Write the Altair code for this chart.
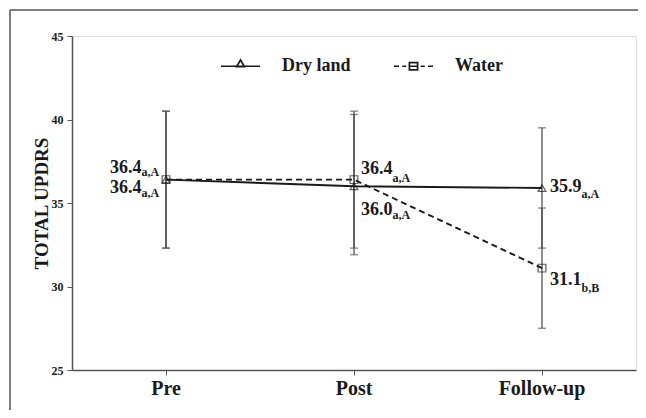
import altair as alt
import pandas as pd

# ---- data ----
times = ["Pre", "Post", "Follow-up"]
groups = ["Dry land", "Water"]

dry_mean = [36.4, 36.0, 35.9]
dry_lo = [32.3, 31.9, 32.3]
dry_hi = [40.5, 40.3, 39.5]
dry_sub = ["a,A", "a,A", "a,A"]

water_mean = [36.4, 36.4, 31.1]
water_lo = [32.3, 32.3, 27.5]
water_hi = [40.5, 40.5, 34.7]
water_sub = ["a,A", "a,A", "b,B"]

y_ticks = [25, 30, 35, 40, 45]

rows = []
for g, m, lo, hi, sb in [("Dry land", dry_mean, dry_lo, dry_hi, dry_sub),
                         ("Water", water_mean, water_lo, water_hi, water_sub)]:
    for t, mv, l, h, s in zip(times, m, lo, hi, sb):
        rows.append({"group": g, "time": t, "mean": mv, "lo": l, "hi": h, "sub": s})
df = pd.DataFrame(rows)

FONT = "Liberation Serif"
INK = "#1a1a1a"

x_enc = alt.X("time:N", sort=times,
              axis=alt.Axis(title=None, labelAngle=0, labelFontSize=20, labelFontWeight="bold",
                            labelColor=INK, tickSize=5, labelPadding=3, tickColor="#555",
                            domainColor="#555", domainWidth=1.5))
y_enc = alt.Y("mean:Q",
              scale=alt.Scale(domain=[25, 45], nice=False, zero=False),
              axis=alt.Axis(values=y_ticks, title="TOTAL UPDRS", grid=False,
                            labelFontSize=12, labelFontWeight="bold", labelColor=INK,
                            tickSize=5, labelPadding=4, tickColor="#555", domainColor="#555",
                            domainWidth=1.5, titleFontSize=19, titleFontWeight="bold",
                            titleColor=INK, titleX=-25, titleY=167, titleAngle=270,
                            titleBaseline="alphabetic"))

base = alt.Chart(df)
dry = base.transform_filter(alt.datum.group == "Dry land")
water = base.transform_filter(alt.datum.group == "Water")

# error bars
bars = base.mark_rule(color="#444", strokeWidth=1.2).encode(
    x=x_enc, y=alt.Y("lo:Q", scale=alt.Scale(domain=[25, 45], nice=False, zero=False)), y2="hi:Q")
cap_lo = base.mark_tick(color="#444", thickness=1.2, size=8, orient="horizontal").encode(x=x_enc, y="lo:Q")
cap_hi = base.mark_tick(color="#444", thickness=1.2, size=8, orient="horizontal").encode(x=x_enc, y="hi:Q")

# lines
line_dry = dry.mark_line(color=INK, strokeWidth=1.9).encode(x=x_enc, y=y_enc)
line_water = water.mark_line(color=INK, strokeWidth=1.9, strokeDash=[6, 4]).encode(x=x_enc, y="mean:Q")

pts_dry = dry.mark_point(shape="triangle-up", size=60, color=INK, strokeWidth=1.2,
                         filled=False).encode(x=x_enc, y="mean:Q")
pts_water = water.mark_point(shape="square", size=60, color=INK, strokeWidth=1.2,
                             filled=False).encode(x=x_enc, y="mean:Q")

# legend-only layer (custom symbols: line + marker); the marks themselves are invisible
dry_sym = "M-1,0L1,0M0,-0.32L0.2,0.02L-0.2,0.02Z"
water_sym = ("M-1,0L-0.74,0M-0.58,0L-0.37,0M-0.21,0L0.21,0M0.37,0L0.58,0M0.74,0L1,0"
             "M-0.21,-0.19L0.21,-0.19L0.21,0.19L-0.21,0.19Z")
legend_layer = base.transform_calculate(series="datum.group").mark_point(
    opacity=0, color=INK, filled=False, size=10).encode(
    x=x_enc, y="mean:Q",
    shape=alt.Shape("series:N", scale=alt.Scale(domain=groups, range=[dry_sym, water_sym]),
                    legend=alt.Legend(title=None, orient="none", direction="horizontal",
                                      legendX=148, legendY=9.5, padding=0,
                                      symbolSize=1521, symbolStrokeWidth=1.7,
                                      symbolStrokeColor=INK, symbolFillColor="transparent",
                                      symbolOpacity=1,
                                      labelFont=FONT, labelFontSize=18, labelFontWeight="bold",
                                      labelColor=INK, labelOffset=21, columnPadding=39)))

# value labels with subscripts
offsets = [
    ("Water", "Pre", -56, -7, -3.5),
    ("Dry land", "Pre", -56, 13.5, 17.5),
    ("Water", "Post", 7, -6, 2),
    ("Dry land", "Post", 7, 28.7, 33),
    ("Dry land", "Follow-up", 8, 4.5, 10),
    ("Water", "Follow-up", 8, 17, 23.6),
]
label_layers = []
for g, t, dx, dy, sdy in offsets:
    sel = base.transform_filter((alt.datum.group == g) & (alt.datum.time == t))
    label_layers.append(sel.mark_text(font=FONT, fontSize=18, fontWeight="bold", color=INK,
                                      align="left", baseline="alphabetic", dx=dx, dy=dy).encode(
        x=x_enc, y="mean:Q", text=alt.Text("mean:Q", format=".1f")))
    label_layers.append(sel.mark_text(font=FONT, fontSize=12, fontWeight="bold", color=INK,
                                      align="left", baseline="alphabetic", dx=dx + 31.5, dy=sdy).encode(
        x=x_enc, y="mean:Q", text="sub:N"))

# outer frame (decoration)
frame_df = pd.DataFrame({"k": [0]})
frame_left = alt.Chart(frame_df).mark_rule(color="#555", strokeWidth=1.5, clip=False).encode(
    x=alt.value(-62), y=alt.value(-26), y2=alt.value(400))
frame_top = alt.Chart(frame_df).mark_rule(color="#555", strokeWidth=1.5, clip=False).encode(
    y=alt.value(-26), x=alt.value(-62), x2=alt.value(600))

chart = alt.layer(
    bars, cap_lo, cap_hi, line_dry, line_water, pts_dry, pts_water, legend_layer,
    *label_layers, frame_left, frame_top
).properties(
    width=564, height=334,
    padding={"left": 64, "top": 28, "right": 2, "bottom": 40},
    autosize=alt.AutoSizeParams(type="none"),
).configure_view(
    stroke="#555", strokeWidth=1.5
).configure(font=FONT)

chart.save("out.html", embed_options={"renderer": "svg", "actions": False})
